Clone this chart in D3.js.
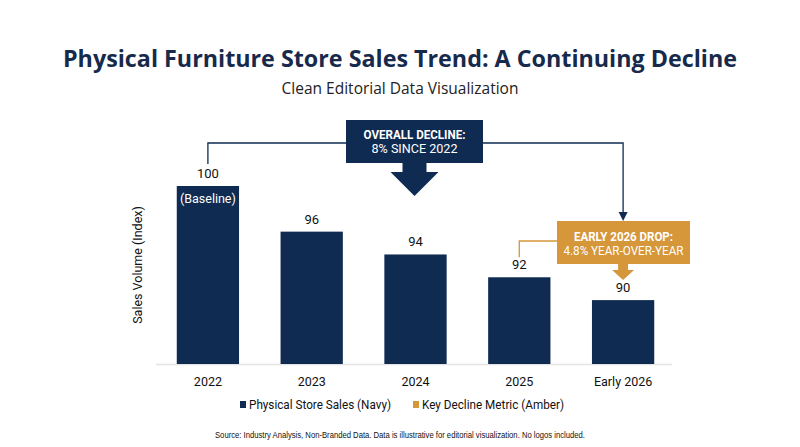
<!DOCTYPE html>
<html><head><meta charset="utf-8">
<script src="https://cdn.jsdelivr.net/npm/d3@7/dist/d3.min.js"></script>
<style>body{margin:0;background:#fff;}svg{display:block;}</style>
</head><body>
<script>
const categories = ["2022","2023","2024","2025","Early 2026"];
const values = [100,96,94,92,90];
const legendLabels = ["Physical Store Sales (Navy)","Key Decline Metric (Amber)"];
const overallText = ["OVERALL DECLINE:","8% SINCE 2022"];
const dropText = ["EARLY 2026 DROP:","4.8% YEAR-OVER-YEAR"];

const W=800,H=447;
const navy="#0f2b52", amber="#d6963a", titleCol="#172a4b";
const svg=d3.select("body").append("svg").attr("width",W).attr("height",H);
svg.append("rect").attr("width",W).attr("height",H).attr("fill","#fff");

svg.append("text").attr("x",400).attr("y",67).attr("text-anchor","middle")
 .attr("font-family","Open Sans").attr("font-weight",700).attr("font-size",23.5).attr("fill",titleCol)
 .attr("textLength",674).attr("lengthAdjust","spacingAndGlyphs")
 .text("Physical Furniture Store Sales Trend: A Continuing Decline");
svg.append("text").attr("x",400).attr("y",94).attr("text-anchor","middle")
 .attr("font-family","Open Sans").attr("font-size",15.5).attr("fill","#222")
 .text("Clean Editorial Data Visualization");

const x=d3.scaleBand().domain(categories).range([156,675]).paddingInner(0.4).paddingOuter(0.2);
const y=d3.scaleLinear().domain([84.4,100]).range([364,186]);

// baseline
svg.append("line").attr("x1",156).attr("x2",672).attr("y1",364.5).attr("y2",364.5)
 .attr("stroke","#e4e4e4").attr("stroke-width",1.5);

svg.selectAll("rect.bar").data(values).enter().append("rect").attr("class","bar")
 .attr("x",(d,i)=>x(categories[i])).attr("width",x.bandwidth())
 .attr("y",d=>y(d)).attr("height",d=>y.range()[0]-y(d)).attr("fill",navy);

const font="Roboto";
svg.selectAll("text.val").data(values).enter().append("text").attr("class","val")
 .attr("x",(d,i)=>x(categories[i])+x.bandwidth()/2).attr("y",d=>y(d)-8)
 .attr("text-anchor","middle").attr("font-family",font).attr("font-size",13).attr("fill","#111")
 .text(d=>d);
svg.append("text").attr("x",x(categories[0])+x.bandwidth()/2).attr("y",y(values[0])+17)
 .attr("text-anchor","middle").attr("font-family",font).attr("font-size",12.5).attr("fill","#fff")
 .text("(Baseline)");

// x axis labels
const xa=svg.append("g").attr("transform","translate(0,364)")
 .call(d3.axisBottom(x).tickSize(0).tickPadding(13));
xa.select(".domain").remove();
xa.selectAll("text").attr("font-family",font).attr("font-size",12.5).attr("fill","#111");

svg.append("text").attr("transform","translate(142,265) rotate(-90)").attr("text-anchor","middle")
 .attr("font-family",font).attr("font-size",12.5).attr("fill","#111").text("Sales Volume (Index)");

// overall decline connector
const cx0=x(categories[0])+x.bandwidth()/2, cx4=x(categories[4])+x.bandwidth()/2;
svg.append("path").attr("d",`M${cx0},${y(values[0])-22} V143 H${cx4} V216`)
 .attr("fill","none").attr("stroke",navy).attr("stroke-width",1.3);
svg.append("path").attr("d",`M${cx4-4.5},${212} L${cx4+4.5},${212} L${cx4},${221} Z`).attr("fill",navy);

// overall box
const bx=346,bw=137,by=120,bh=43, bcx=bx+bw/2;
svg.append("rect").attr("x",bx).attr("y",by).attr("width",bw).attr("height",bh).attr("fill",navy);
svg.append("path").attr("d",`M${bcx-12},${by+bh-1} H${bcx+12} V172 H${bcx+24} L${bcx},196 L${bcx-24},172 H${bcx-12} Z`).attr("fill",navy);
svg.append("text").attr("x",bcx).attr("y",139).attr("text-anchor","middle").attr("font-family",font)
 .attr("font-weight",700).attr("font-size",12.5).attr("fill","#fff")
 .attr("textLength",102).attr("lengthAdjust","spacingAndGlyphs").text(overallText[0]);
svg.append("text").attr("x",bcx).attr("y",153).attr("text-anchor","middle").attr("font-family",font)
 .attr("font-size",12.5).attr("fill","#fff")
 .attr("textLength",86).attr("lengthAdjust","spacingAndGlyphs").text(overallText[1]);

// amber connector to 2025
const cx3=x(categories[3])+x.bandwidth()/2;
svg.append("path").attr("d",`M557,241 H${cx3} V${y(values[3])-20}`)
 .attr("fill","none").attr("stroke",amber).attr("stroke-width",1.3);

// amber box
const ax=557,aw=133,ay=221,ah=43,acx=cx4;
svg.append("rect").attr("x",ax).attr("y",ay).attr("width",aw).attr("height",ah).attr("fill",amber);
svg.append("path").attr("d",`M${acx-5},${ay+ah-1} H${acx+5} V270 H${acx+11} L${acx},280 L${acx-11},270 H${acx-5} Z`).attr("fill",amber);
svg.append("text").attr("x",ax+aw/2).attr("y",241).attr("text-anchor","middle").attr("font-family",font)
 .attr("font-weight",700).attr("font-size",12.5).attr("fill","#fff")
 .attr("textLength",99).attr("lengthAdjust","spacingAndGlyphs").text(dropText[0]);
svg.append("text").attr("x",ax+aw/2).attr("y",255).attr("text-anchor","middle").attr("font-family",font)
 .attr("font-size",12.5).attr("fill","#fff")
 .attr("textLength",120).attr("lengthAdjust","spacingAndGlyphs").text(dropText[1]);

// legend
const lg=svg.append("g").attr("font-family",font).attr("font-size",13);
const lcol=[navy,amber], lx=[240,413];
legendLabels.forEach((t,i)=>{
  lg.append("rect").attr("x",lx[i]).attr("y",401).attr("width",6).attr("height",7).attr("fill",lcol[i]);
  lg.append("text").attr("x",lx[i]+9).attr("y",409).attr("fill","#111")
    .attr("textLength",142).attr("lengthAdjust","spacingAndGlyphs").text(t);
});

svg.append("text").attr("x",400).attr("y",438).attr("text-anchor","middle").attr("font-family","Liberation Sans")
 .attr("font-size",8.6).attr("fill","#111")
 .attr("textLength",370).attr("lengthAdjust","spacingAndGlyphs")
 .text("Source: Industry Analysis, Non-Branded Data. Data is illustrative for editorial visualization. No logos included.");
</script>
</body></html>
